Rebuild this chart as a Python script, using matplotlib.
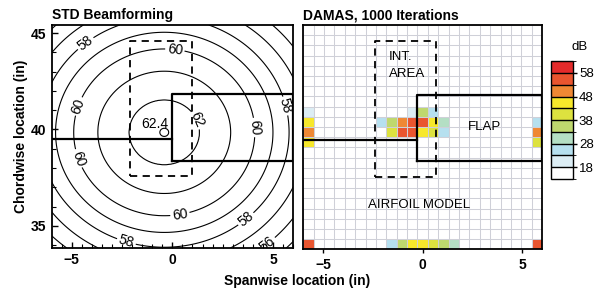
# Beamforming vs DAMAS source maps, airfoil model
import numpy as np
import matplotlib
matplotlib.use('Agg')
from matplotlib import pyplot as plt
from matplotlib import rcParams
from matplotlib.colors import ListedColormap, BoundaryNorm

rcParams['font.family'] = ['Liberation Sans', 'DejaVu Sans']
rcParams['axes.linewidth'] = 1.3

# ---- plot limits (in)
x_lim = [-6.0, 6.0]
y_lim = [33.85, 45.42]

# ---- STD beamforming: level vs distance from the peak
peak_x, peak_y = -0.4, 39.85
y_squash = 1.04
ring_radius = [0.0, 0.22, 1.75, 3.3, 4.5, 5.4, 6.2, 7.05, 7.9, 8.7, 9.6]
ring_db = [62.45, 62.4, 62.0, 61.0, 60.0, 59.0, 58.0, 57.0, 56.0, 55.0, 54.0]
plain_levels = [55, 57, 59, 61, 62.4]
labelled_levels = [56, 58, 60, 62]
label_pos = [(-4.55, 44.8), (0.15, 44.4), (-4.9, 41.3), (-4.9, 38.4),
             (1.25, 40.5), (4.05, 40.1), (5.55, 41.2), (0.4, 35.45),
             (3.7, 35.3), (-2.25, 34.3), (4.7, 34.1)]

# ---- DAMAS 1000 iterations: 23 x 22 grid, (column, row from top, dB)
n_col, n_row = 23, 22
damas_col = [0, 0, 0, 0, 0,
             22, 22, 22, 22,
             10, 11, 12,
             7, 8, 9, 10, 11, 12, 13,
             8, 9, 10, 11, 12, 13,
             8, 9, 10, 11, 12, 13, 14]
damas_row = [8, 9, 10, 11, 21,
             9, 10, 11, 21,
             8, 8, 8,
             9, 9, 9, 9, 9, 9, 9,
             10, 10, 10, 10, 10, 10,
             21, 21, 21, 21, 21, 21, 21]
damas_db = [20, 45, 50, 45, 55,
            25, 50, 40, 55,
            20, 35, 25,
            25, 35, 50, 55, 55, 45, 30,
            40, 55, 55, 45, 40, 25,
            25, 35, 45, 45, 40, 35, 30]

# ---- colour scale
cbar_bounds = [16.5, 18, 23, 28, 33, 38, 43, 48, 53, 58, 60.7]
cbar_colors = ['#ffffff', '#dcedf4', '#b6e0ef', '#b4dfc4', '#bfd86e',
               '#dde23f', '#f7e82b', '#ef8834', '#e9552f', '#e42b2b']
cbar_ticks = [18, 28, 38, 48, 58]

# ---- geometry outlines (right map is drawn ~0.28 in to the left)
flap = [0.0, 6.0, 38.38, 41.82]
chord_y = 39.5
int_area = [-2.12, 0.97, 37.6, 44.6]
shift_right = -0.28

fig = plt.figure(figsize=(5.95, 2.94), dpi=100)
a = fig.add_axes([0.0866, 0.1565, 0.406, 0.7585])
b = fig.add_axes([0.5095, 0.152, 0.4017, 0.763])
c = fig.add_axes([0.9255, 0.391, 0.037, 0.401])


def outlines(ax, dx):
    fx = [flap[0] + dx, 6.0]
    ax.plot([fx[0], fx[1], fx[1], fx[0], fx[0]],
            [flap[2], flap[2], flap[3], flap[3], flap[2]], 'k-', lw=1.6, zorder=3)
    ax.plot([x_lim[0], fx[0]], [chord_y, chord_y], 'k-', lw=1.6, zorder=3)
    ix = [int_area[0] + dx, int_area[1] + dx]
    ax.plot([ix[0], ix[1], ix[1], ix[0], ix[0]],
            [int_area[2], int_area[2], int_area[3], int_area[3], int_area[2]],
            'k--', lw=1.3, dashes=(4, 3), zorder=3)


# left: contours
xg = np.linspace(x_lim[0], x_lim[1], 400)
yg = np.linspace(y_lim[0], y_lim[1], 400)
X, Y = np.meshgrid(xg, yg)
R = np.hypot(X - peak_x, (Y - peak_y) * y_squash)
Z = np.interp(R, ring_radius, ring_db)
a.contour(X, Y, Z, levels=plain_levels, colors='k', linewidths=0.8)
cs = a.contour(X, Y, Z, levels=labelled_levels, colors='k', linewidths=0.8)
a.clabel(cs, manual=label_pos, fmt='%g', fontsize=10, inline_spacing=2)
a.text(-0.85, 40.3, '62.4', fontsize=10, ha='center', va='center')
outlines(a, 0.0)

a.set_xlim(x_lim)
a.set_ylim(y_lim)
a.set_xticks([-5, 0, 5])
a.set_yticks([35, 40, 45])
a.set_xticks(np.arange(-6, 6.01, 0.5), minor=True)
a.set_yticks(np.arange(34, 45.1, 1), minor=True)
a.tick_params(direction='in', length=4, width=1, labelsize=10)
a.tick_params(which='minor', direction='in', length=3, width=0.8)
for t in a.get_xticklabels() + a.get_yticklabels():
    t.set_fontweight('bold')
a.set_title('STD Beamforming', fontsize=10, fontweight='bold', loc='left', pad=4)
a.set_ylabel('Chordwise location (in)', fontsize=10, fontweight='bold', labelpad=2)

# right: DAMAS grid
C = np.full((n_row, n_col), np.nan)
for i in range(len(damas_db)):
    C[damas_row[i], damas_col[i]] = damas_db[i]
cmap = ListedColormap(cbar_colors)
cmap.set_bad('white')
norm = BoundaryNorm(cbar_bounds, cmap.N)
x_edges = np.linspace(x_lim[0], x_lim[1], n_col + 1)
y_edges = np.linspace(y_lim[1], y_lim[0], n_row + 1)
pm = b.pcolormesh(x_edges, y_edges, np.ma.masked_invalid(C), cmap=cmap, norm=norm,
                  edgecolors='none', zorder=1)
b.vlines(x_edges, y_lim[0], y_lim[1], colors='#cfd0d8', linewidth=0.75, zorder=1.5)
b.hlines(y_edges, x_lim[0], x_lim[1], colors='#cfd0d8', linewidth=0.75, zorder=1.5)
outlines(b, shift_right)
b.text(-1.7, 43.77, 'INT.', fontsize=9.5, ha='left', va='center')
b.text(-1.7, 42.89, 'AREA', fontsize=9.5, ha='left', va='center')
b.text(3.1, 40.15, 'FLAP', fontsize=9.5, ha='center', va='center')
b.text(-0.17, 36.15, 'AIRFOIL MODEL', fontsize=9.5, ha='center', va='center')
b.set_xlim(x_lim)
b.set_ylim(y_lim)
b.set_xticks([-5, 0, 5])
b.set_yticks([])
b.tick_params(direction='out', length=3, width=1, labelsize=10)
for t in b.get_xticklabels():
    t.set_fontweight('bold')
b.set_title('DAMAS, 1000 Iterations', fontsize=10, fontweight='bold', loc='left', pad=4)

# colour bar
cb = fig.colorbar(pm, cax=c, ticks=cbar_ticks, drawedges=True)
cb.outline.set_linewidth(1.0)
cb.dividers.set_linewidth(1.0)
c.tick_params(length=3, width=1, pad=1.5, labelsize=9.5)
fig.text(0.975, 0.84, 'dB', fontsize=9.5, ha='center', va='center')

fig.text(0.499, 0.045, 'Spanwise location (in)', fontsize=10, fontweight='bold',
         ha='center', va='center')

fig.savefig('out.png', dpi=100)
